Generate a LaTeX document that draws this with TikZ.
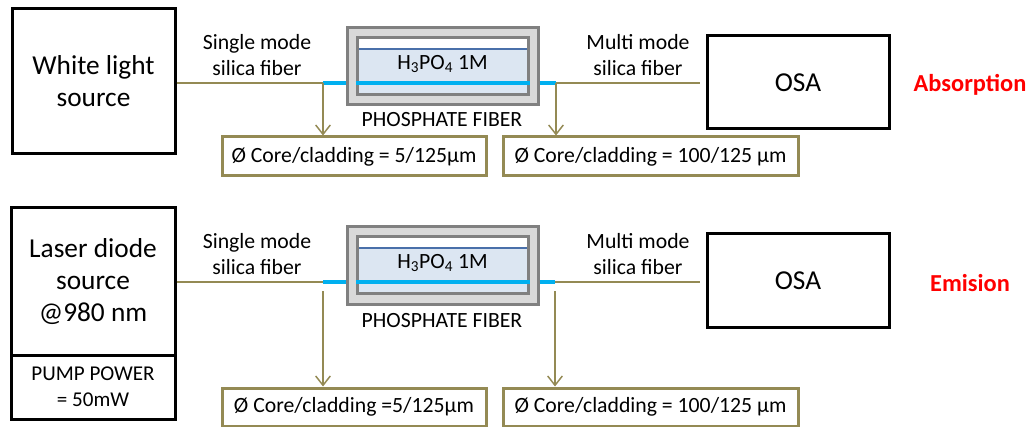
\documentclass[tikz,border=0pt]{standalone}
\usepackage{fontspec}
\setmainfont{Carlito}
\usetikzlibrary{arrows.meta}
\definecolor{olivec}{HTML}{948A54}
\definecolor{fiberblue}{HTML}{00B0F0}
\definecolor{darkblue}{HTML}{4A70AA}
\definecolor{lightblue}{HTML}{DCE6F2}
\definecolor{framefill}{HTML}{D9D9D9}
\definecolor{framedraw}{HTML}{808080}
\definecolor{redc}{HTML}{FF0000}
\tikzset{
  blackbox/.style={draw=black, line width=2.25pt, inner sep=0pt, align=center, font=\fontsize{20.5}{24}\selectfont},
  infobox/.style={draw=olivec, line width=2.25pt, inner sep=0pt, fill=white, font=\fontsize{16.3}{19.5}\selectfont},
  lbl/.style={align=center, inner sep=0pt, font=\fontsize{16.3}{19}\selectfont},
  frame/.style={draw=framedraw, fill=framefill, line width=2.25pt, inner sep=0pt, minimum width=143.25pt, minimum height=57.75pt},
  innerframe/.style={draw=framedraw, line width=2.25pt, inner sep=0pt, minimum width=128.25pt, minimum height=42.75pt},
  fiber/.style={draw=olivec, line width=1.2pt},
  core/.style={draw=fiberblue, line width=3pt},
  tap/.style={draw=olivec, line width=1.2pt, -{Straight Barb[length=7pt, width=11pt, line width=1.1pt]}},
  mode/.style={font=\fontsize{18.3}{22}\selectfont\bfseries, text=redc, inner sep=0pt}
}
\begin{document}
\begin{tikzpicture}[x=0.75pt, y=-0.75pt]
\useasboundingbox (0,0) rectangle (1030,427);

% ================= Row 1 : Absorption =================
\node[blackbox, minimum width=122.25pt, minimum height=108.75pt] (src1) at (93.5,81.5) {White light\\source};
\node[lbl] (sm1) at (257,55) {Single mode\\silica fiber};
\node[lbl] (mm1) at (638,55) {Multi mode\\silica fiber};
\node[blackbox, minimum width=136.5pt, minimum height=69.75pt] (osa1) at (798,82.5) {OSA};
\node[mode] (abs) at (970,85) {Absorption};

% phosphate fiber 1
\node[frame] (ph1) at (442.5,66.5) {};
\fill[white] (357,38) rectangle (528,49);
\fill[lightblue] (357,49) rectangle (528,95);
\draw[darkblue, line width=1.6pt] (357,49) -- (528,49);
\node[innerframe] (in1) at (442.5,66.5) {};
\node[lbl] (h1) at (442.5,64) {H\textsubscript{3}PO\textsubscript{4} 1M};
\node[lbl] (pf1) at (442,120) {PHOSPHATE FIBER};

\coordinate (c1) at (323,83);
\coordinate (c2) at (556,83);
\draw[fiber] (src1.east |- c1) -- (c1);
\draw[core] (c1) -- (ph1.west |- c1);
\draw[core] (in1.west |- c1) -- (in1.east |- c1);
\draw[core] (ph1.east |- c1) -- (c2);
\draw[fiber, shorten >=4pt] (c2) -- (osa1.west |- c2);

\node[infobox, minimum width=198pt, minimum height=29.25pt] (b1a) at (354,156.5) {Ø Core/cladding = 5/125µm};
\node[infobox, minimum width=221.25pt, minimum height=29.25pt] (b1b) at (650.5,156.5) {Ø Core/cladding = 100/125 µm};
\draw[tap] (c1) -- (c1 |- b1a.north);
\draw[tap] (c2) -- (c2 |- b1b.north);

% ================= Row 2 : Emision =================
\node[blackbox, minimum width=123pt, minimum height=110.25pt] (src2) at (93,281.5) {Laser diode\\source\\@980 nm};
\node[blackbox, minimum width=123pt, minimum height=48pt, font=\fontsize{15.8}{19.5}\selectfont] (pump) at (93,387) {PUMP POWER\\= 50mW};
\node[lbl] (sm2) at (257,254) {Single mode\\silica fiber};
\node[lbl] (mm2) at (638,254) {Multi mode\\silica fiber};
\node[blackbox, minimum width=136.5pt, minimum height=69.75pt] (osa2) at (798,280.5) {OSA};
\node[mode] (emi) at (970,283) {Emision};

% phosphate fiber 2
\node[frame] (ph2) at (442.5,265.5) {};
\fill[white] (357,237) rectangle (528,248);
\fill[lightblue] (357,248) rectangle (528,294);
\draw[darkblue, line width=1.6pt] (357,248) -- (528,248);
\node[innerframe] (in2) at (442.5,265.5) {};
\node[lbl] (h2) at (442.5,263) {H\textsubscript{3}PO\textsubscript{4} 1M};
\node[lbl] (pf2) at (442,321) {PHOSPHATE FIBER};

\coordinate (c4) at (323,282);
\coordinate (c5) at (555,282);
\draw[fiber] (src2.east |- c4) -- (c4);
\draw[core] (c4) -- (ph2.west |- c4);
\draw[core] (in2.west |- c4) -- (in2.east |- c4);
\draw[core] (ph2.east |- c4) -- (c5);
\draw[fiber, shorten >=4pt] (c5) -- (osa2.west |- c5);

\node[infobox, minimum width=198pt, minimum height=28.5pt] (b2a) at (354,407) {Ø Core/cladding =5/125µm};
\node[infobox, minimum width=221.25pt, minimum height=28.5pt] (b2b) at (650.5,407) {Ø Core/cladding = 100/125 µm};
\draw[tap, shorten <=7pt] (c4) -- (c4 |- b2a.north);
\draw[tap, shorten <=7pt] (c5) -- (c5 |- b2b.north);
\end{tikzpicture}
\end{document}
